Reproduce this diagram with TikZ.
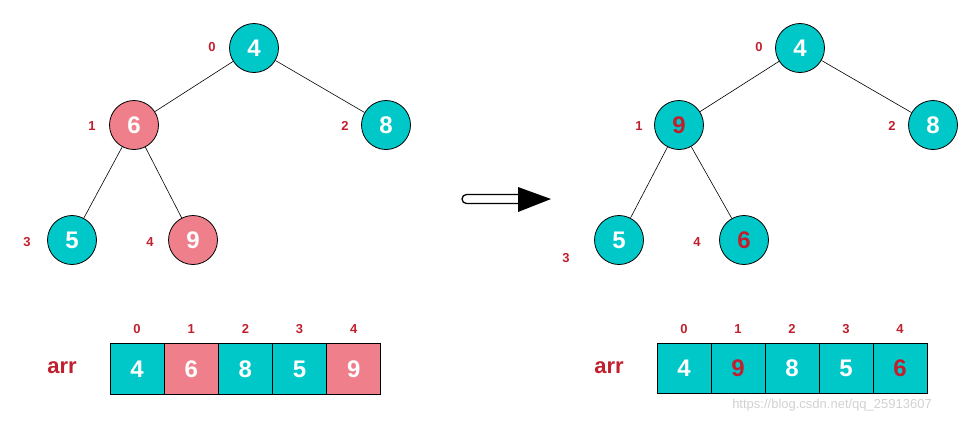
\documentclass[tikz,border=0pt]{standalone}
\usepackage{fontspec}
\setmainfont{Liberation Sans}
\begin{document}
\begin{tikzpicture}[x=1pt,y=-1pt,
  nd/.style={circle,draw=black,line width=0.8pt,minimum size=49pt,inner sep=0pt,font=\bfseries\fontsize{24}{24}\selectfont},
  tl/.style={fill=teal0,text=white},
  pk/.style={fill=pink0,text=white},
  rt/.style={fill=teal0,text=red0},
  idx/.style={text=red0,font=\bfseries\fontsize{13}{13}\selectfont},
  cell/.style={draw=black,line width=0.8pt,minimum width=54pt,minimum height=51pt,inner sep=0pt,font=\bfseries\fontsize{24}{24}\selectfont},
  arrl/.style={text=red0,font=\bfseries\fontsize{22}{22}\selectfont},
  ed/.style={line width=0.6pt}]
\definecolor{teal0}{HTML}{00C8C8}
\definecolor{pink0}{HTML}{F07F8C}
\definecolor{red0}{HTML}{C0202E}
\useasboundingbox (0,0) rectangle (965,424);
% left tree
\node[nd,tl] (a0) at (254,48) {4};
\node[nd,pk] (a1) at (134,125) {6};
\node[nd,tl] (a2) at (386,125) {8};
\node[nd,tl] (a3) at (72,240) {5};
\node[nd,pk] (a4) at (193,240) {9};
\draw[ed] (a0)--(a1); \draw[ed] (a0)--(a2); \draw[ed] (a1)--(a3); \draw[ed] (a1)--(a4);
\node[idx] (la0) at (212,47) {0};
\node[idx] (la1) at (92,126) {1};
\node[idx] (la2) at (345,126) {2};
\node[idx] (la3) at (27,242) {3};
\node[idx] (la4) at (150,242) {4};
% right tree
\node[nd,tl] (b0) at (800,48) {4};
\node[nd,rt] (b1) at (679,125) {9};
\node[nd,tl] (b2) at (933,125) {8};
\node[nd,tl] (b3) at (619,240) {5};
\node[nd,rt] (b4) at (744,240) {6};
\draw[ed] (b0)--(b1); \draw[ed] (b0)--(b2); \draw[ed] (b1)--(b3); \draw[ed] (b1)--(b4);
\node[idx] (lb0) at (759,47) {0};
\node[idx] (lb1) at (639,126) {1};
\node[idx] (lb2) at (892,126) {2};
\node[idx] (lb3) at (566,258) {3};
\node[idx] (lb4) at (697,242) {4};
% arrow
\draw[line width=1.3pt,fill=white,rounded corners=4.5pt] (520,194.5) -- (462,194.5) -- (462,203.5) -- (520,203.5);
\fill (518,187) -- (551,199) -- (518,212) -- cycle;
% left array
\node[arrl] (arrL) at (62,368) {arr};
\foreach \v/\c [count=\i from 0] in {4/tl,6/pk,8/tl,5/tl,9/pk}{
  \node[cell,\c] (ca\i) at (137+54.2*\i,369) {\v};
  \node[idx] (ia\i) at (137+54.2*\i,329) {\i};
}
% right array
\node[arrl] (arrR) at (609,368) {arr};
\foreach \v/\c [count=\i from 0] in {4/tl,9/rt,8/tl,5/tl,6/rt}{
  \node[cell,\c,minimum height=50pt] (cb\i) at (684+54*\i,368) {\v};
  \node[idx] (ib\i) at (684+54*\i,329) {\i};
}
\node[text=black!18,font=\fontsize{13}{13}\selectfont] (wm) at (832,405) {https://blog.csdn.net/qq\_25913607};
\end{tikzpicture}
\end{document}
